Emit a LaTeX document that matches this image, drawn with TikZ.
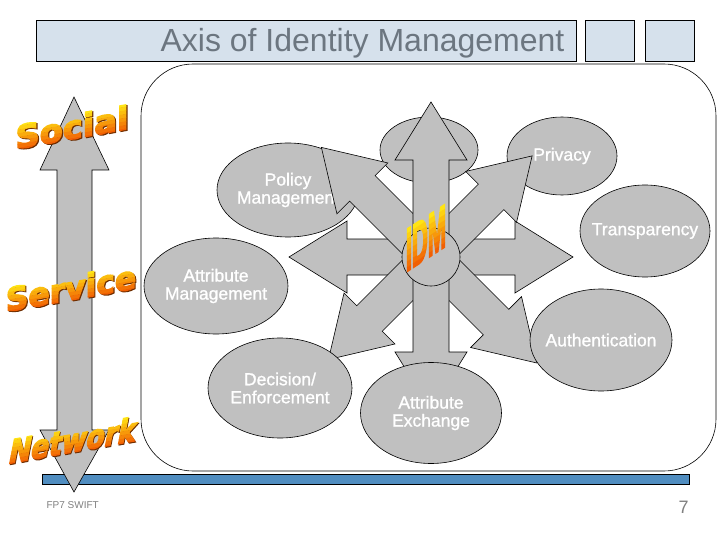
\documentclass[tikz,border=0pt]{standalone}
\usepackage{fontspec}
\usetikzlibrary{shapes.geometric}
\setmainfont{Liberation Sans}
\newfontfamily\artfont{DejaVu Sans}
\definecolor{shapegray}{RGB}{192,192,192}
\definecolor{barfill}{RGB}{214,225,236}
\definecolor{titlegray}{RGB}{108,118,128}
\definecolor{rulerblue}{RGB}{80,141,192}
\definecolor{artyellow}{RGB}{255,228,20}
\definecolor{artred}{RGB}{238,70,0}
\definecolor{artbrown}{RGB}{110,45,0}
\begin{document}
\begin{tikzpicture}[x=1pt, y=-1pt, line width=.6pt,
    blob/.style={ellipse, draw, fill=shapegray, inner sep=0pt},
    blockarrow/.style={draw, fill=shapegray, line join=miter},
    titlebox/.style={draw, fill=barfill, inner sep=0pt, anchor=north west, minimum height=41pt},
    heavy/.style={execute at begin node={\special{pdf:literal direct 2 Tr #1 w}},
      execute at end node={\special{pdf:literal direct 0 Tr 0.6 w}}},
    wordart/.style={font=\artfont\bfseries\fontsize{28}{28}\selectfont, inner sep=0pt, transform shape, heavy=1.2},
    every label/.style={text=white, align=center, font=\fontsize{17.5}{18}\selectfont, heavy=.2}]
  \useasboundingbox (0,0) rectangle (720,540);
  % title bar
  \node[titlebox, minimum width=540pt] (titlebar) at (36,20) {};
  \node[titlebox, minimum width=49pt] (boxa) at (585,20) {};
  \node[titlebox, minimum width=49pt] (boxb) at (645,20) {};
  \node[anchor=base east, text=titlegray, font=\fontsize{32}{32}\selectfont] (title) at (568,52) {Axis of Identity Management};
  % frame and bar
  \draw[rounded corners=52pt] (141,64) rectangle (716,471);
  \draw[fill=rulerblue] (42,474) rectangle (689,484);
  % ellipses behind the arrows
  \node[blob, minimum width=98pt, minimum height=66pt] (topblob) at (429,150) {};
  \node[blob, minimum width=110pt, minimum height=78pt, label={center:Privacy}] (privacy) at (562,156) {};
  \node[blob, minimum width=142pt, minimum height=94pt, label={center:Policy\\Management}] (policy) at (288,190) {};
  \node[blob, minimum width=130pt, minimum height=92pt, label={center:Transparency}] (transp) at (645,231) {};
  \node[blob, minimum width=144pt, minimum height=96pt, label={center:Attribute\\Management}] (attrmgmt) at (216,286) {};
  % star of arrows
  \coordinate (hub) at (431,257);
  \foreach \ang/\len in {0/142,180/142,-45/150,-135/145,45/143,135/155,-90/153,90/155}
    \draw[blockarrow, shift={(hub)}, rotate=\ang] (0,-18) -- (\len-58,-18) -- (\len-58,-36)
      -- (\len,0) -- (\len-58,36) -- (\len-58,18) -- (0,18) -- cycle;
  \node[blob, circle, minimum size=58pt] (core) at (hub) {};
  % ellipses over the arrows
  \node[blob, minimum width=144pt, minimum height=100pt, label={center:Decision/\\Enforcement}] (decision) at (280,388) {};
  \node[blob, minimum width=141pt, minimum height=101pt, label={center:Attribute\\Exchange}] (exchange) at (431,413) {};
  \node[blob, minimum width=142pt, minimum height=102pt, label={center:Authentication}] (authn) at (601,340) {};
  \foreach \i in {0,...,7} {
    \pgfmathtruncatemacro\mix{100-12*\i}
    \begin{scope}[shift={(426,238)}, yslant=.65, xscale=.55, yscale=1.5]
      \clip (-40,-15+3.75*\i) rectangle (40,-11+3.75*\i);
      \node[wordart, font=\bfseries\fontsize{40}{40}\selectfont, text=artyellow!\mix!artred, heavy=2] (idm) at (0,0) {IDM};
    \end{scope}}
  % left axis
  \draw[blockarrow] (74,97) -- (109,170) -- (92,170) -- (92,430) -- (109,430) -- (74,492)
    -- (40,430) -- (57,430) -- (57,170) -- (40,170) -- cycle;
  \foreach \word/\wx/\wy/\xs/\sl in {Social/72/127/1.2/0, Service/71/288/1.12/0, Network/73/440/.95/.2} {
    \begin{scope}[shift={(\wx,\wy)}, yslant=.18, xslant=\sl, xscale=\xs, yscale=1.15]
      \node[wordart, text=artbrown] at (1,1) {\word};
    \end{scope}
    \foreach \i in {0,...,7} {
      \pgfmathtruncatemacro\mix{100-12*\i}
      \begin{scope}[shift={(\wx,\wy)}, yslant=.18, xslant=\sl, xscale=\xs, yscale=1.15]
        \clip (-80,-12.5+3.2*\i) rectangle (80,-9+3.2*\i);
        \node[wordart, text=artyellow!\mix!artred] (\word) at (0,0) {\word};
      \end{scope}}}
  % footer
  \node[anchor=base west, text=gray, font=\fontsize{10}{10}\selectfont] (footer) at (43,508) {FP7 SWIFT};
  \node[anchor=base west, text=gray, font=\fontsize{18}{18}\selectfont] (pageno) at (675,513) {7};
\end{tikzpicture}
\end{document}
